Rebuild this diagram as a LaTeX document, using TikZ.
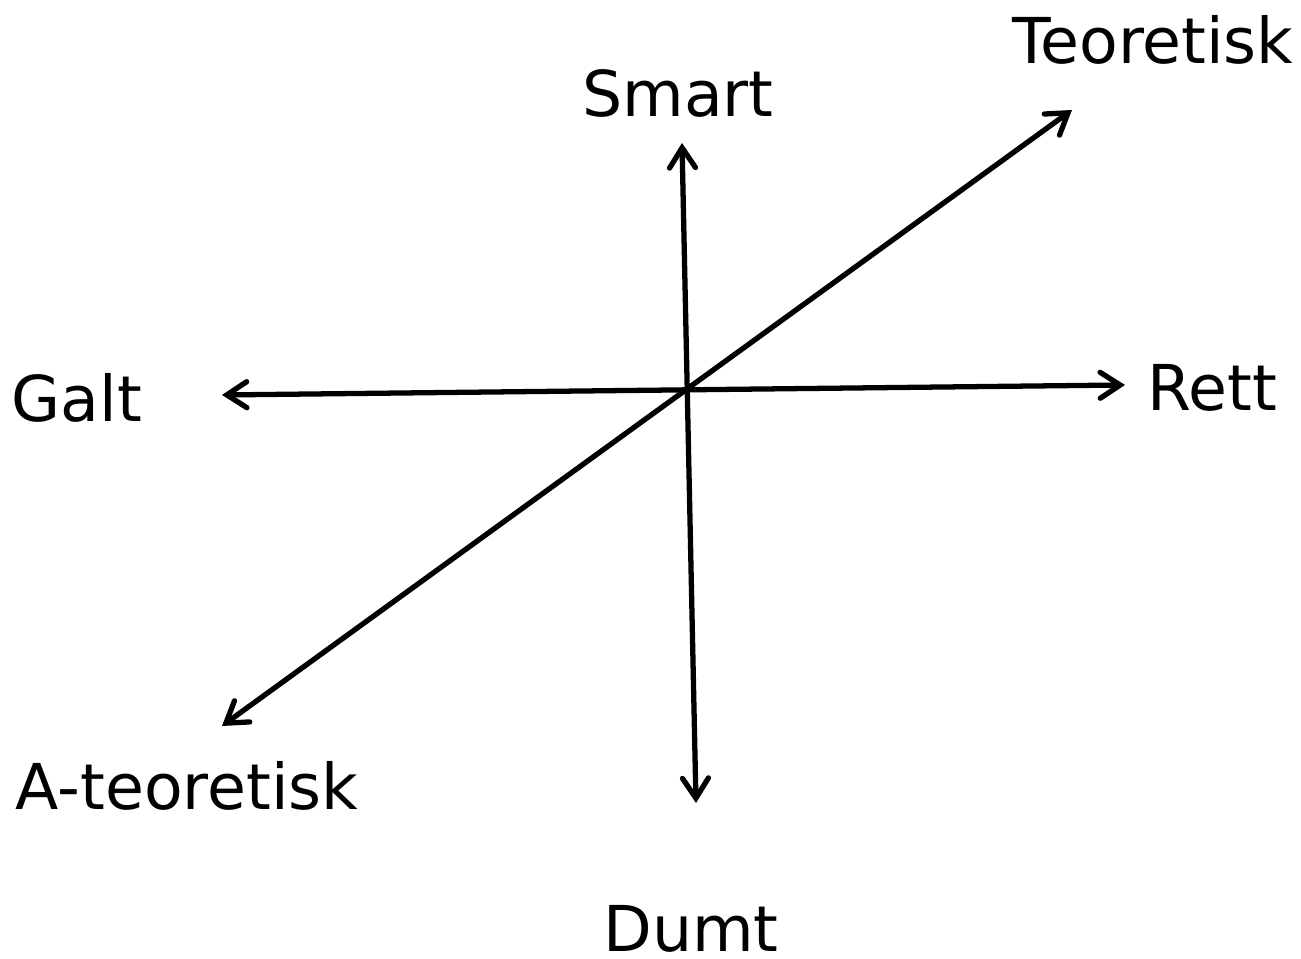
\documentclass[tikz,border=0pt]{standalone}
\usepackage{fontspec}
\setmainfont{DejaVu Sans}
\usetikzlibrary{arrows.meta}

\tikzset{
  axis/.style={line width=1.5pt, {Straight Barb[length=2mm, width=2.6mm, line cap=round]}-{Straight Barb[length=2mm, width=2.6mm, line cap=round]}},
  pole/.style={anchor=base, inner sep=0pt, font=\fontsize{18}{21}\selectfont}
}

\begin{document}
\begin{tikzpicture}
                \useasboundingbox (0,0) rectangle (13.01,9.59);
                \coordinate (G) at (2.22,5.64);
                \coordinate (R) at (11.25,5.74);
                \coordinate (S) at (6.82,8.16);
                \coordinate (D) at (6.96,1.56);
                \coordinate (T) at (10.72,8.49);
                \coordinate (A) at (2.22,2.33);
                \draw[axis] (G) -- (R);
                \draw[axis] (D) -- (S);
                \draw[axis] (A) -- (T);
                \node[pole] (teoretisk) at (11.53,8.95) {Teoretisk};
                \node[pole] (smart) at (6.78,8.42) {Smart};
                \node[pole] (galt) at (0.77,5.37) {Galt};
                \node[pole] (rett) at (12.12,5.48) {Rett};
                \node[pole] (ateoretisk) at (1.87,1.49) {A-teoretisk};
                \node[pole] (dumt) at (6.91,0.07) {Dumt};
            \end{tikzpicture}
\end{document}
